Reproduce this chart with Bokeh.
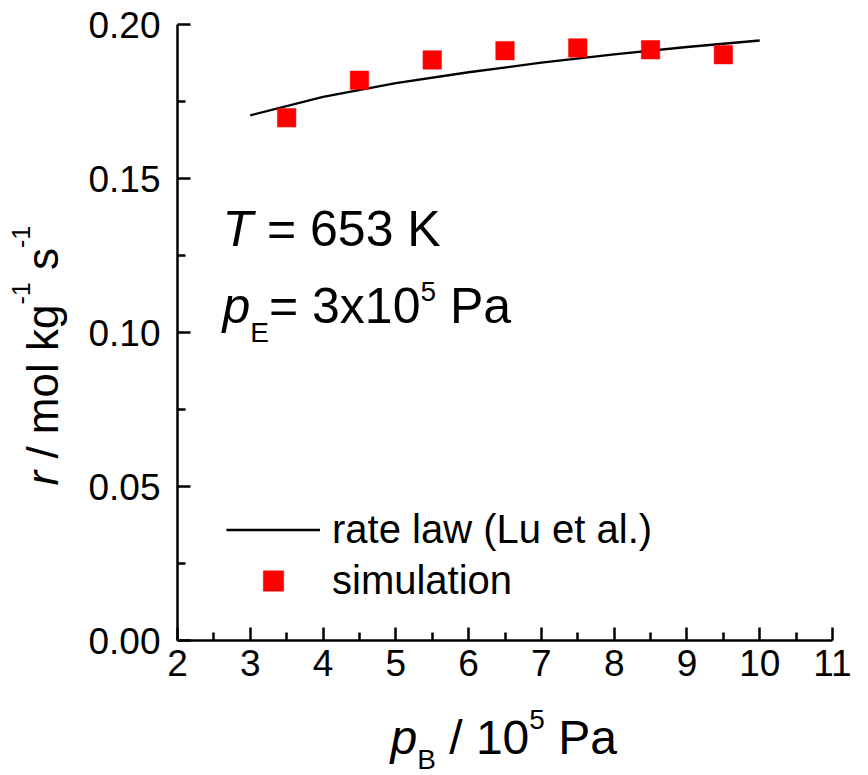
import math

from bokeh.plotting import figure
from bokeh.models import (Range1d, FixedTicker, NumeralTickFormatter, Label,
                          Legend, LegendItem)
from bokeh.embed import file_html
from bokeh.resources import INLINE

# Reaction rate vs. benzene partial pressure
# rate law (Lu et al.)
p_rate = [3, 4, 5, 6, 7, 8, 9, 10]
r_rate = [0.1705, 0.1765, 0.1810, 0.1845, 0.1876, 0.1903, 0.1927, 0.1948]

# simulation results
p_sim = [3.5, 4.5, 5.5, 6.5, 7.5, 8.5, 9.5]
r_sim = [0.1697, 0.1819, 0.1885, 0.1915, 0.1924, 0.1918, 0.1902]

x_ticks = [2, 3, 4, 5, 6, 7, 8, 9, 10, 11]
x_minor = [2.5, 3.5, 4.5, 5.5, 6.5, 7.5, 8.5, 9.5, 10.5]
y_ticks = [0.0, 0.05, 0.10, 0.15, 0.20]
y_minor = [0.025, 0.075, 0.125, 0.175]

FONT = "Liberation Sans"
W, H = 868, 775
# pixel box of the axes inside the canvas
BOX_L, BOX_R, BOX_T, BOX_B = 177, 832, 24, 640
X0, X1 = 2, 11
Y0, Y1 = 0.0, 0.20


def dx(px):
    return X0 + (px - BOX_L) * (X1 - X0) / (BOX_R - BOX_L)


def dy(py):
    return Y0 + (BOX_B - py) * (Y1 - Y0) / (BOX_B - BOX_T)


# the frame spans the whole canvas; the axes sit at fixed data locations
p = figure(width=W, height=H, output_backend="svg", toolbar_location=None,
           x_range=Range1d(dx(0), dx(W)), y_range=Range1d(dy(H), dy(0)),
           min_border=0)
p.outline_line_color = None
p.xgrid.visible = False
p.ygrid.visible = False
p.background_fill_color = "white"
p.border_fill_color = "white"

p.xaxis.fixed_location = Y0
p.yaxis.fixed_location = X0
p.xaxis.bounds = (X0, X1)
p.yaxis.bounds = (Y0, Y1)

for ax in (p.xaxis[0], p.yaxis[0]):
    ax.axis_line_width = 2.5
    ax.axis_line_color = "black"
    ax.major_tick_in = 13
    ax.major_tick_out = 0
    ax.minor_tick_in = 8
    ax.minor_tick_out = 0
    ax.major_tick_line_width = 2.5
    ax.minor_tick_line_width = 2.5
    ax.major_tick_line_color = "black"
    ax.minor_tick_line_color = "black"
    ax.major_label_text_font = FONT
    ax.major_label_text_font_size = "37px"
    ax.major_label_text_color = "black"

p.xaxis.ticker = FixedTicker(ticks=x_ticks, minor_ticks=x_minor)
p.yaxis.ticker = FixedTicker(ticks=y_ticks, minor_ticks=y_minor)
p.yaxis.formatter = NumeralTickFormatter(format="0.00")
p.xaxis.major_label_standoff = 9
p.yaxis.major_label_standoff = 17

line_r = p.line(p_rate, r_rate, line_color="black", line_width=2.3)
sq_r = p.scatter(p_sim, r_sim, marker="square", size=18.5,
                 fill_color="#ff0000", line_color="#ff0000", line_width=0.5)

legend = Legend(items=[LegendItem(label="rate law (Lu et al.)", renderers=[line_r]),
                       LegendItem(label="simulation", renderers=[sq_r])],
                location=(226, H - 605.5), orientation="vertical",
                label_text_font=FONT, label_text_font_size="40px",
                label_text_color="black",
                glyph_width=94, glyph_height=51, label_height=51,
                label_standoff=12, spacing=0, padding=0, margin=0,
                border_line_alpha=0, background_fill_alpha=0)
p.add_layout(legend)

# --- rich text (italic symbols, sub- and superscripts) ---
ADV = {" ": 278, "T": 611, "=": 584, "6": 556, "5": 556, "3": 556, "K": 667,
       "p": 556, "E": 667, "x": 500, "1": 556, "0": 556, "P": 667, "a": 556,
       "B": 667, "/": 278, "r": 333, "m": 833, "o": 556, "l": 222, "k": 500,
       "g": 556, "-": 333, "s": 500}
BASE_ADJ = 0.40  # label anchor sits this far (in em) above the drawn baseline


def width(s, size):
    return sum(ADV.get(c, 556) for c in s) * size / 1000.0


def rich(pieces, px, py, vertical=False):
    """pieces: (text, size, style, shift) - shift moves the baseline down (+) or up (-)."""
    pos = 0.0
    for text, size, style, shift in pieces:
        body = text.lstrip(" ")
        pos += width(text[:len(text) - len(body)], size)
        off = shift - BASE_ADJ * size
        if vertical:
            x, y, ang = px + off, py - pos, math.pi / 2
        else:
            x, y, ang = px + pos, py + off, 0
        p.add_layout(Label(x=dx(x), y=dy(y), text=body, angle=ang,
                           text_font=FONT, text_font_size=f"{size}px",
                           text_font_style=style, text_color="black",
                           text_align="left", text_baseline="alphabetic"))
        pos += width(body, size)


# in-plot annotation
rich([("T", 50, "italic", 0), (" = 653 K", 50, "normal", 0)], 222, 248)
rich([("p", 50, "italic", 0), ("E", 28, "normal", 18),
      ("= 3x10", 50, "normal", 0), ("5", 28, "normal", -23),
      (" Pa", 50, "normal", 0)], 222, 325)

# axis titles
rich([("p", 48, "italic", 0), ("B", 28, "normal", 14),
      (" / 10", 48, "normal", 0), ("5", 28, "normal", -26),
      (" Pa", 48, "normal", 0)], 390, 756)
rich([("r", 44, "italic", 0), (" / mol kg", 44, "normal", 0),
      ("-1", 25, "normal", -30), (" s", 44, "normal", 0),
      ("-1", 25, "normal", -30)], 60, 485, vertical=True)

open("out.html", "w").write(file_html(p, INLINE))
